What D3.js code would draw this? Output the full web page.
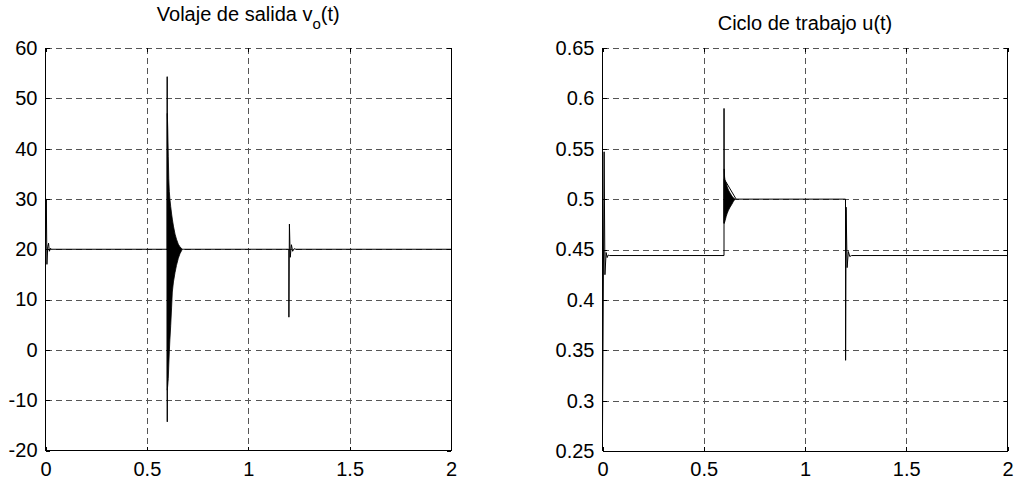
<!DOCTYPE html>
<html><head><meta charset="utf-8">
<script src="https://cdn.jsdelivr.net/npm/d3@7"></script>
<style>
html,body{margin:0;padding:0;background:#fff;}
svg{display:block;font-family:"Liberation Sans",Arial,sans-serif;}
</style></head>
<body>
<svg id="c" width="1014" height="482"></svg>
<script>
// ---------- data ----------
const xTicks = [0, 0.5, 1, 1.5, 2];
const voTicks = [-20, -10, 0, 10, 20, 30, 40, 50, 60];
const uTicks = [0.25, 0.3, 0.35, 0.4, 0.45, 0.5, 0.55, 0.6, 0.65];
const voTitle = "Volaje de salida v";
const uTitle = "Ciclo de trabajo u(t)";

// output voltage, sparse trace (t, value)
const voT = [0, 0.004, 0.007, 0.011, 0.015, 0.019, 0.025, 0.03, 0.6, 0.6002, 0.6006, 0.601, 0.68, 1.2, 1.2005, 1.203, 1.207, 1.213, 1.219, 1.226, 1.235, 2];
const voV = [20, 30, 17, 20.5, 21.2, 19.6, 20.2, 20, 20, 54.3, -14.3, 20, 20, 20, 6.5, 25, 18.4, 20.9, 19.6, 20.1, 20, 20];
// dense oscillation envelope after t = 0.6
const voEnvT  = [0.6006, 0.603, 0.6056, 0.608, 0.6106, 0.6135, 0.6175, 0.622, 0.6254, 0.631, 0.6389, 0.646, 0.655, 0.663, 0.672];
const voEnvHi = [47, 44, 38.5, 34, 31.5, 30, 28.5, 27, 26, 24.6, 23, 22, 21, 20.5, 20.1];
const voEnvLo = [-8, -7, -5.7, -3, -0.4, 2, 4.8, 8.5, 11.5, 13.5, 15.4, 16.8, 18.2, 19.1, 19.8];

// duty cycle, sparse trace
const uT = [0, 0.008, 0.012, 0.018, 0.023, 0.028, 0.035, 0.6, 0.6002, 0.6006, 0.601, 0.66, 1.2, 1.2005, 1.203, 1.208, 1.214, 1.221, 1.23, 2];
const uV = [0.27, 0.547, 0.425, 0.447, 0.442, 0.4445, 0.444, 0.444, 0.59, 0.476, 0.52, 0.5, 0.5, 0.34, 0.492, 0.432, 0.448, 0.443, 0.444, 0.444];
const uEnvT  = [0.601, 0.603, 0.606, 0.611, 0.616, 0.622, 0.630, 0.639, 0.647, 0.655];
const uEnvHi = [0.53, 0.522, 0.518, 0.516, 0.512, 0.509, 0.506, 0.503, 0.501, 0.5];
const uEnvLo = [0.476, 0.477, 0.479, 0.483, 0.486, 0.489, 0.492, 0.495, 0.498, 0.5];

// ---------- drawing ----------
const svg = d3.select("#c");
const FS = 20;
const fmt = d => String(d);

function panel(cfg) {
  const x = d3.scaleLinear().domain([0, 2]).range(cfg.xr);
  const y = d3.scaleLinear().domain(cfg.yd).range(cfg.yr);
  const g = svg.append("g");
  const [x0, x1] = cfg.xr, [y0, y1] = cfg.yr;

  const grid = g.append("g").attr("stroke", "#555").attr("stroke-width", 1)
    .attr("stroke-dasharray", "6,4").attr("shape-rendering", "crispEdges");
  xTicks.slice(1, -1).forEach(t => grid.append("line")
    .attr("x1", Math.round(x(t)) + 0.5).attr("x2", Math.round(x(t)) + 0.5)
    .attr("y1", y1).attr("y2", y0));
  cfg.ticks.slice(1).forEach(t => grid.append("line")
    .attr("x1", x0).attr("x2", x1)
    .attr("y1", Math.round(y(t)) + 0.5).attr("y2", Math.round(y(t)) + 0.5));

  const env = cfg.envT.map((t, i) => ({t, hi: cfg.envHi[i], lo: cfg.envLo[i]}));
  g.append("path").datum(env)
    .attr("fill", "#000").attr("stroke", "#000").attr("stroke-width", 0.8)
    .attr("d", d3.area().x(d => x(d.t)).y0(d => y(d.lo)).y1(d => y(d.hi)));

  const pts = cfg.T.map((t, i) => [t, cfg.V[i]]);
  g.append("path").datum(pts)
    .attr("fill", "none").attr("stroke", "#000").attr("stroke-width", 1)
    .attr("d", d3.line().x(d => x(d[0])).y(d => y(d[1])));

  const fr = g.append("g").attr("stroke", "#000").attr("stroke-width", 1).attr("shape-rendering", "crispEdges");
  fr.append("line").attr("x1", x0).attr("x2", x0).attr("y1", y1).attr("y2", y0);
  fr.append("line").attr("x1", x1).attr("x2", x1).attr("y1", y1).attr("y2", y0);
  fr.append("line").attr("x1", x0).attr("x2", x1).attr("y1", y0).attr("y2", y0);

  const ab = g.append("g").attr("transform", `translate(0,${y0})`)
    .call(d3.axisBottom(x).tickValues(xTicks).tickSizeInner(-4).tickSizeOuter(0).tickPadding(11).tickFormat(fmt));
  const al = g.append("g").attr("transform", `translate(${x0},0)`)
    .call(d3.axisLeft(y).tickValues(cfg.ticks).tickSizeInner(-4).tickSizeOuter(0).tickPadding(8).tickFormat(fmt));
  const at = g.append("g").attr("transform", `translate(0,${y1})`)
    .call(d3.axisTop(x).tickValues(xTicks).tickSizeInner(-4).tickSizeOuter(0).tickFormat(""));
  const ar = g.append("g").attr("transform", `translate(${x1},0)`)
    .call(d3.axisRight(y).tickValues(cfg.ticks).tickSizeInner(-4).tickSizeOuter(0).tickFormat(""));
  [ab, al, at, ar].forEach(a => {
    a.select(".domain").remove();
    a.selectAll("line").attr("stroke", "#000").attr("shape-rendering", "crispEdges");
    a.selectAll("text").attr("fill", "#000").style("font-size", FS + "px").style("font-family", '"Liberation Sans",Arial,sans-serif');
  });
  return {x, y};
}

panel({xr: [45.5, 451], yr: [450.5, 48], yd: [-20, 60], ticks: voTicks,
  T: voT, V: voV, envT: voEnvT, envHi: voEnvHi, envLo: voEnvLo});
panel({xr: [602.5, 1007.5], yr: [451, 48], yd: [0.25, 0.65], ticks: uTicks,
  T: uT, V: uV, envT: uEnvT, envHi: uEnvHi, envLo: uEnvLo});

const t1 = svg.append("text").attr("x", (45.5 + 451) / 2).attr("y", 21)
  .attr("text-anchor", "middle").style("font-size", FS + "px").attr("fill", "#000");
t1.append("tspan").text(voTitle);
t1.append("tspan").attr("dy", 8).style("font-size", "15px").text("o");
t1.append("tspan").attr("dy", -8).text("(t)");

svg.append("text").attr("x", (602.5 + 1007.5) / 2).attr("y", 30)
  .attr("text-anchor", "middle").style("font-size", FS + "px").attr("fill", "#000").text(uTitle);
</script>
</body></html>
